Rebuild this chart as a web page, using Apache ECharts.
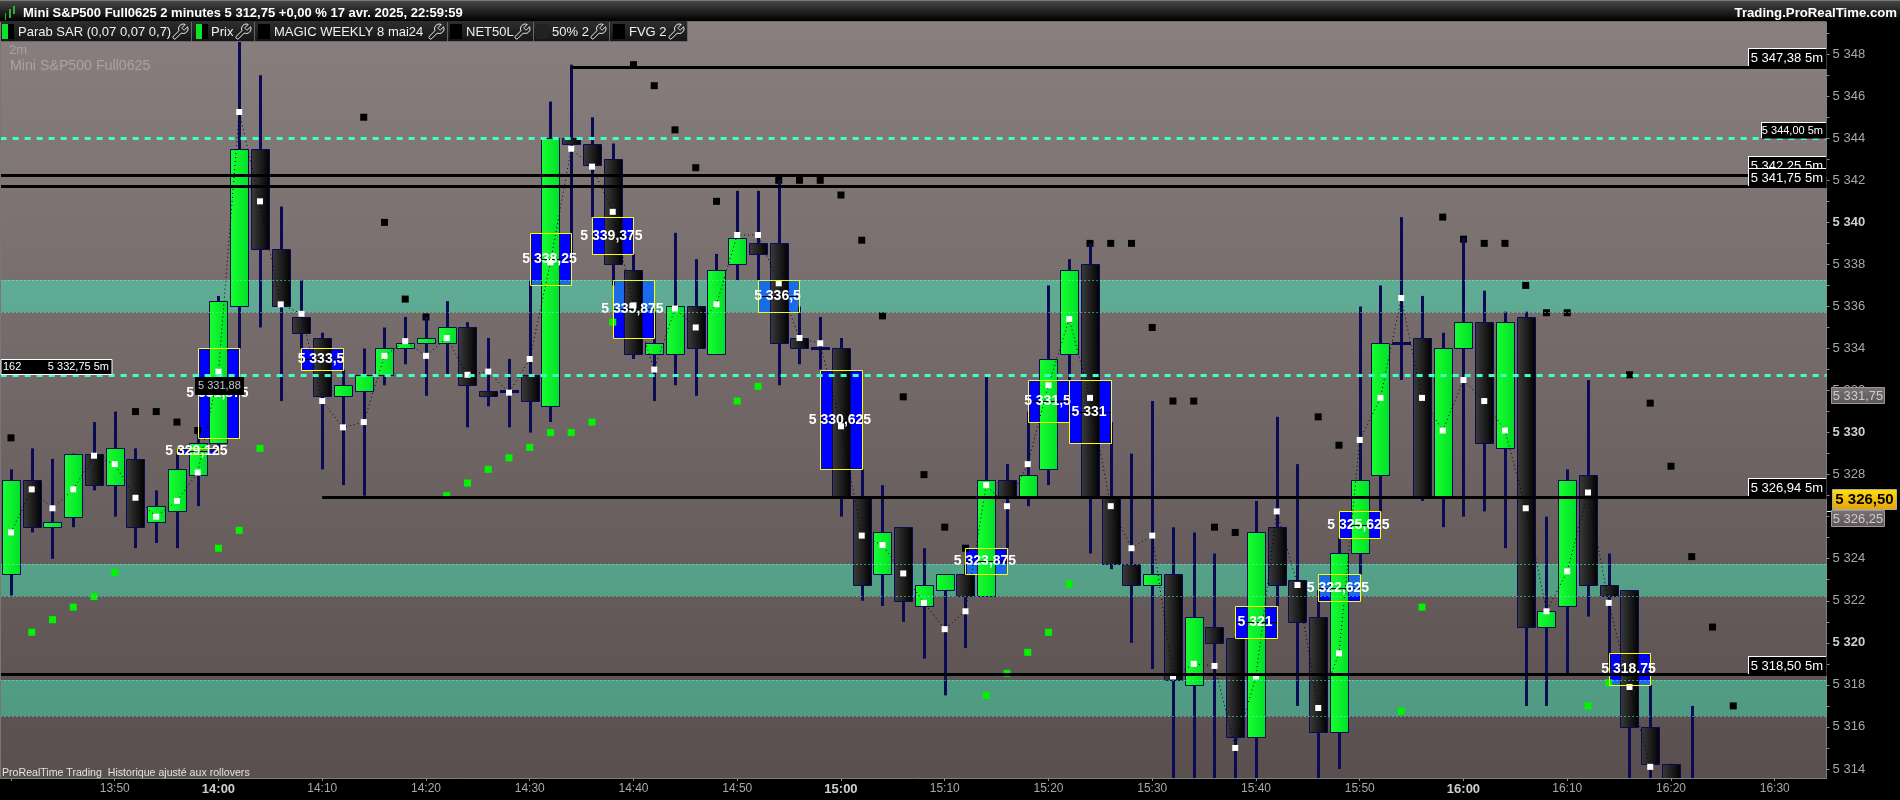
<!DOCTYPE html>
<html><head><meta charset="utf-8">
<style>html,body{margin:0;padding:0;background:#000;overflow:hidden}#c{width:1900px;height:800px}</style>
<script src="https://cdn.jsdelivr.net/npm/echarts@6/dist/echarts.min.js"></script>
</head><body><div id="c"></div>
<script>
const times=['13:40','13:42','13:44','13:46','13:48','13:50','13:52','13:54','13:56','13:58','14:00','14:02','14:04','14:06','14:08','14:10','14:12','14:14','14:16','14:18','14:20','14:22','14:24','14:26','14:28','14:30','14:32','14:34','14:36','14:38','14:40','14:42','14:44','14:46','14:48','14:50','14:52','14:54','14:56','14:58','15:00','15:02','15:04','15:06','15:08','15:10','15:12','15:14','15:16','15:18','15:20','15:22','15:24','15:26','15:28','15:30','15:32','15:34','15:36','15:38','15:40','15:42','15:44','15:46','15:48','15:50','15:52','15:54','15:56','15:58','16:00','16:02','16:04','16:06','16:08','16:10','16:12','16:14','16:16','16:18','16:20','16:22','16:24','16:26','16:28','16:30','16:32','16:34'];
const opens=[5323.25,5327.75,5325.5,5326,5329,5327.5,5328.75,5325.75,5326.25,5328,5329.5,5336,5343.5,5338.75,5335.5,5334.5,5331.75,5332,5332.75,5334,5334.25,5334.25,5335,5332,5332,5332.75,5331.25,5344,5343.75,5343,5337.75,5333.75,5333.75,5336,5333.75,5338,5339,5339,5334.5,5334,5334,5327,5323.25,5325.5,5321.75,5322.5,5323.25,5322.25,5327.75,5327,5328.25,5333.75,5338,5327,5323.75,5322.75,5323.25,5318,5320.75,5320.25,5315.5,5325.5,5323,5321.25,5315.75,5324.25,5328,5334.25,5334.5,5327,5334,5335.25,5329.25,5335.5,5320.75,5321.75,5328,5322.75,5322.5,5316,5314.25,5313.25];
const closes=[5327.75,5325.5,5325.75,5329,5327.5,5329.25,5325.5,5326.5,5328.25,5329.5,5336.25,5343.5,5338.75,5336,5334.75,5331.75,5332.25,5332.75,5334,5334.25,5334.5,5335,5332.25,5331.75,5332,5331.5,5344,5343.75,5342.75,5338,5333.75,5334.25,5336,5334,5337.75,5339.25,5338.5,5334.25,5334,5334,5327,5322.75,5325.25,5322,5322.75,5323.25,5322.25,5327.75,5327,5328,5333.5,5337.75,5327,5323.75,5322.75,5323.25,5318.25,5321.25,5320,5315.5,5325.25,5322.75,5321,5315.75,5324.25,5327.75,5334.25,5334.25,5327,5334,5335.25,5329.5,5335.25,5320.75,5321.5,5327.75,5322.75,5322.25,5316,5314.25,5313.25,5313];
const highs=[5328.25,5329.25,5328.75,5329,5330.5,5331,5329.25,5327.25,5329,5330,5336.5,5349,5347,5340.75,5337.25,5334.75,5333,5334,5335,5335.5,5335.5,5336.25,5335.25,5334.5,5333.5,5337.25,5345.75,5347.5,5345,5343.75,5338.5,5335.75,5339.5,5338.25,5338.5,5341.5,5341.5,5342,5336,5335.5,5334.5,5328.25,5327.5,5325.5,5324.5,5323.25,5323.75,5332.75,5328.5,5331,5337,5338.25,5339,5330.5,5329,5331.5,5325.5,5325.25,5324.25,5320.25,5326.75,5330.75,5328.5,5322.5,5325,5336,5337,5340.25,5336.5,5334.75,5339.25,5336.75,5335.75,5335.75,5326,5328.25,5332.5,5324.25,5322.5,5318,5314.25,5317];
const lows=[5322.25,5325.25,5324,5325.5,5327.25,5326,5324.5,5324.75,5324.5,5326.5,5329.25,5334,5335,5331.5,5334,5328.25,5327.5,5327,5332.25,5333.25,5331.75,5332.75,5330.25,5331.25,5330.25,5330,5330.5,5338.25,5340.25,5337,5333.5,5331.5,5332.25,5331.75,5333.75,5337.25,5337.25,5332.25,5333.25,5333,5326,5322,5321.75,5321,5319.25,5317.5,5319.75,5322.25,5324.5,5326.5,5327.5,5332.5,5324.25,5323.5,5320,5318.75,5313.25,5313.25,5313.25,5313.25,5313.25,5321.75,5317,5313.25,5314,5323.25,5326.25,5332.5,5326.75,5325.5,5326,5326.25,5324.5,5317,5317,5318.5,5321.25,5318.5,5313.25,5313.25,5313,5312.5];
const closePoints=[5325.25,5327.3,5326.4,5327.3,5328.9,5328.5,5326.9,5326,5326.75,5328.1,5332.9,5345.25,5341,5336.1,5335.65,5331.5,5330.25,5330.5,5333.65,5334.35,5333.65,5334.5,5332.75,5332.9,5331.9,5333.5,5338.1,5343.5,5342.65,5340.5,5336.05,5333,5335.9,5335,5336.1,5339.4,5339.4,5337.1,5334.5,5334.25,5330.3,5325.1,5324.65,5323.3,5321.9,5320.65,5321.5,5327.5,5326.5,5328.5,5332.25,5335.4,5331.65,5326.5,5324.5,5325.1,5318.4,5319,5318.9,5315,5318.4,5326.25,5322.75,5316.9,5319.5,5329.65,5331.65,5336.4,5331.65,5330.1,5332.5,5331.5,5330.1,5326.4,5321.5,5323.4,5327.15,5321.9,5317.9,5314.1];
const sarUp=[null,5320.5,5321.1,5321.7,5322.2,5323.35,null,null,null,null,5324.5,5325.35,5329.25,null,null,null,null,null,null,null,null,5327,5327.6,5328.25,5328.8,5329.3,5330,5330,5330.5,5335.25,null,null,null,null,null,5331.5,5332.2,null,null,null,null,null,null,null,null,null,null,5317.5,5318.55,5319.55,5320.5,5322.8,null,null,null,null,null,null,null,null,null,null,null,null,null,null,null,5316.75,5321.7,null,null,null,null,null,null,null,5317,5318.1];
const sarDown=[5329.75,null,null,null,null,null,5331,5331,5330.5,5330.1,null,null,null,null,null,null,null,5345,5340,5336.35,5335.5,null,null,null,null,null,null,null,null,null,5347.5,5346.5,5344.4,5342.6,5341,null,null,5342,5342,5342,5341.3,5339.15,5335.55,5331.7,5328,5325.5,5324.5,null,null,null,null,null,5339,5339,5339,5335,5331.5,5331.5,5325.5,5325.25,null,null,null,5330.75,5329.4,null,null,null,null,5340.25,5339.2,5339,5339,5337,5335.7,5335.7,null,null,5332.75,5331.4,5328.4,5324.1,5320.75,5317];
const boxLabels=['5 331,875','5 329,125','5 333,5','5 338,25','5 339,375','5 335,875','5 336,5','5 330,625','5 323,875','5 331,5','5 331','5 325,625','5 322,625','5 321','5 318,75'];
const boxStart=[9,8,14,25,28,29,36,39,46,49,51,64,63,59,77];
const boxHigh=[5334,5329.25,5334,5339.5,5340.25,5337.25,5337.25,5333,5324.5,5332.5,5332.5,5326.25,5323.25,5321.75,5319.5];
const boxLow=[5329.75,5329,5333,5337,5338.5,5334.5,5335.75,5328.25,5323.25,5330.5,5329.5,5325,5322,5320.25,5318];
const bandHigh=[5337.25,5323.75,5318.25];
const bandLow=[5335.75,5322.25,5316.5];
const solidLevels=[5347.38,5342.25,5341.75,5326.94,5318.5];
const solidLevelStart=[27,-1,-1,15,-1];
const dashLevels=[5344,5332.75];
const yTicks=[5314,5316,5318,5320,5322,5324,5326,5328,5330,5332,5334,5336,5338,5340,5342,5344,5346,5348];
const yMinorTicks=[5314,5315,5316,5317,5318,5319,5320,5321,5322,5323,5324,5325,5326,5327,5328,5329,5330,5331,5332,5333,5334,5335,5336,5337,5338,5339,5340,5341,5342,5343,5344,5345,5346,5347,5348,5349];
const titleText='Mini S&P500 Full0625 2 minutes 5 312,75 +0,00 % 17 avr. 2025, 22:59:59';
const brandText='Trading.ProRealTime.com';

const FONT='"Liberation Sans", Arial, sans-serif';
const NAVY='#0b0b55', MINT='#40ffc4';
const greenFill={type:'linear',x:0,y:0,x2:1,y2:0,colorStops:[{offset:0,color:'#18ff30'},{offset:1,color:'#00e028'}]};
const blackFill={type:'linear',x:0,y:0,x2:1,y2:0,colorStops:[{offset:0,color:'#3c3c3c'},{offset:1,color:'#000000'}]};
const fmtY=v=>{const s=String(v);return s[0]+' '+s.slice(1)};

const candleData=opens.map((o,i)=>[i,o,closes[i],highs[i],lows[i]]);
function renderCandle(p,api){
  const i=p.dataIndex,x=Math.round(api.coord([i,5330])[0]);
  const yo=Math.round(api.coord([i,opens[i]])[1]),yc=Math.round(api.coord([i,closes[i]])[1]);
  const yh=api.coord([i,highs[i]])[1],yl=api.coord([i,lows[i]])[1];
  const kids=[{type:'rect',shape:{x:x-1,y:yh,width:3,height:yl-yh},style:{fill:NAVY}}];
  if(opens[i]===closes[i]){
    kids.push({type:'rect',shape:{x:x-9,y:yo-1,width:19,height:3},style:{fill:NAVY}});
  }else{
    const top=Math.min(yo,yc),h=Math.abs(yo-yc);
    kids.push({type:'rect',shape:{x:x-9+.5,y:top+.5,width:18,height:h},
      style:{fill:closes[i]>opens[i]?greenFill:blackFill,stroke:NAVY,lineWidth:1}});
  }
  return {type:'group',children:kids};
}
function boxRect(i,api){
  const a=api.coord([boxStart[i],boxHigh[i]]),b=api.coord([boxStart[i]+2,boxLow[i]]);
  return {x:Math.round(a[0]),y:Math.round(a[1]),r:Math.round(b[0]),b:Math.round(b[1])};
}
function renderBoxFill(p,api){
  const r=boxRect(p.dataIndex,api);
  return {type:'rect',shape:{x:r.x,y:r.y,width:r.r-r.x,height:r.b-r.y},style:{fill:'#0000ff'}};
}
function renderBoxTop(p,api){
  const r=boxRect(p.dataIndex,api),my=Math.round((r.y+r.b)/2);
  return {type:'group',children:[
    {type:'line',shape:{x1:r.x,y1:my+.5,x2:r.r,y2:my+.5},style:{stroke:'#000',lineWidth:1}},
    {type:'rect',shape:{x:r.x+.5,y:r.y+.5,width:r.r-r.x,height:r.b-r.y},style:{fill:'none',stroke:'#ffff00',lineWidth:1}},
    {type:'text',style:{x:(r.x+r.r)/2-1,y:my,text:boxLabels[p.dataIndex],align:'center',verticalAlign:'middle',font:'bold 14px '+FONT,fill:'#fff'}}
  ]};
}
function renderBand(p,api){
  const i=p.dataIndex,c=p.coordSys,t=Math.round(api.coord([0,bandHigh[i]])[1]),b=Math.round(api.coord([0,bandLow[i]])[1]);
  return {type:'rect',shape:{x:c.x,y:t,width:c.width,height:b-t},style:{fill:'rgba(62,255,198,0.42)'}};
}
function renderBandEdge(p,api){
  const i=p.dataIndex,c=p.coordSys,t=Math.round(api.coord([0,bandHigh[i]])[1])+.5,b=Math.round(api.coord([0,bandLow[i]])[1])+.5;
  const st={stroke:'#62ffd4',lineWidth:1,lineDash:[1,3]};
  return {type:'group',children:[
    {type:'line',shape:{x1:c.x,y1:t,x2:c.x+c.width,y2:t},style:st},
    {type:'line',shape:{x1:c.x,y1:b,x2:c.x+c.width,y2:b},style:st}]};
}
function renderSolid(p,api){
  const i=p.dataIndex,c=p.coordSys,y=Math.round(api.coord([0,solidLevels[i]])[1])+.5;
  const x0=solidLevelStart[i]<0?c.x:api.coord([solidLevelStart[i],5330])[0];
  return {type:'line',shape:{x1:x0,y1:y,x2:c.x+c.width,y2:y},style:{stroke:'#000',lineWidth:3}};
}
function renderDash(p,api){
  const i=p.dataIndex,c=p.coordSys,y=Math.round(api.coord([0,dashLevels[i]])[1])+.5;
  return {type:'line',shape:{x1:c.x,y1:y,x2:c.x+c.width,y2:y},style:{stroke:MINT,lineWidth:3,lineDash:[6,6]}};
}
const custom=(name,z,data,renderItem)=>({name,type:'custom',z,silent:true,clip:true,data,encode:{x:0,y:1},renderItem});
const idx=a=>a.map((v,i)=>[i,v]);

// chrome
const g=[];
const rect=(x,y,w,h,fill,stroke)=>g.push({type:'rect',z:100,silent:true,shape:{x,y,width:w,height:h},style:stroke?{fill,stroke,lineWidth:1}:{fill}});
const txt=(x,y,text,font,fill,align)=>g.push({type:'text',z:100,silent:true,style:{x,y,text,font:font+' '+FONT,fill,align:align||'left',verticalAlign:'middle'}});
const WRENCH='M14.7 6.3a1 1 0 0 0 0 1.4l1.6 1.6a1 1 0 0 0 1.4 0l3.77-3.77a6 6 0 0 1-7.94 7.94l-6.91 6.91a2.12 2.12 0 0 1-3-3l6.91-6.91a6 6 0 0 1 7.94-7.94l-3.76 3.76z';
const wrenchX=[];
// title bar
rect(0,0,1900,21,{type:'linear',x:0,y:0,x2:0,y2:1,colorStops:[{offset:0,color:'#4a4a4a'},{offset:1,color:'#000'}]});
rect(0,0,1900,1,'#777');
rect(0,21,1826,1,'#6e6e6e');
rect(5,13,1,7,'#2fb02f');rect(9,9,2,9,'#2fb02f');rect(13,6,2,8,'#2fb02f');
txt(23,13,titleText,'bold 13px','#fff');
txt(1897,13,brandText,'bold 13.2px','#fff','right');
// legend bar
rect(0,21,687,20,{type:'linear',x:0,y:0,x2:0,y2:1,colorStops:[{offset:0,color:'#2e2e2e'},{offset:1,color:'#161616'}]});
rect(0,41,687,1,'#6a6a6a');rect(687,21,1,21,'#6a6a6a');
const legend=[[2,'#0ee32a',18,'Parab SAR (0,07 0,07 0,7)',173,191],[196,'#0ee32a',211,'Prix',236,254],[258,'#000',274,'MAGIC WEEKLY 8 mai24',429,447],[450,'#000',466,'NET50L',515,533],[536,'#222',552,'50% 2',591,609],[613,'#000',629,'FVG 2',669,null]];
legend.forEach(l=>{
  rect(l[0],24,12,15,'#000');
  rect(l[0],24,l[1]==='#000'||l[1]==='#222'?12:6,15,l[1]);
  txt(l[2],32,l[3],'13px','#f0f0f0');
  wrenchX.push(l[4]);
  if(l[5])rect(l[5],22,1,19,'#666');
});
// plot captions
rect(0,22,1,756,'#777');
txt(9,50,'2m','13px','#a9a3a3');
txt(10,66,'Mini S&P500 Full0625','14.2px','#a9a3a3');
txt(2,773,'ProRealTime Trading  Historique ajusté aux rollovers','10.6px','#e2e2e2');
// level tags
const tag=(x,y,w,h,text,font)=>{rect(x+.5,y+.5,w,h,'#000');rect(x,y,w,1,'#fff');rect(x,y,1,h,'#fff');txt(x+w-3,y+h/2+1,text,font,'#fff','right');};
tag(1748,48,78,18,'5 347,38 5m','13px');
tag(1761,122,65,16,'5 344,00 5m','11px');
tag(1748,156,78,18,'5 342,25 5m','13px');
tag(1748,168,78,18,'5 341,75 5m','13px');
tag(1748,478,78,18,'5 326,94 5m','13px');
tag(1748,656,78,18,'5 318,50 5m','13px');
// left tag
rect(1,359.5,111,15,'#000','#fff');
txt(3,367,'162','11px','#fff');
txt(109,367,'5 332,75 5m','11px','#fff','right');
// hover tag
rect(195,377,49,18,'#000');
txt(198,386,'5 331,88','11px','#c8c8c8');
// axis price tags
const grey={type:'linear',x:0,y:0,x2:0,y2:1,colorStops:[{offset:0,color:'#7a7272'},{offset:1,color:'#5e5656'}]};
rect(1831.5,387.5,53,16,grey,'#9a9a9a');
txt(1858,396,'5 331,75','13px','#ccc','center');
rect(1827,511,6,1,'#fff');
rect(1831.5,510.5,53,16,grey,'#9a9a9a');
txt(1858,519,'5 326,25','13px','#ccc','center');
rect(1832.5,489.5,64,20,{type:'linear',x:0,y:0,x2:0,y2:1,colorStops:[{offset:0,color:'#ffdf10'},{offset:1,color:'#e5a300'}]},'#aaa');
txt(1864.5,500,'5 326,50','bold 15px','#000','center');

const chart=echarts.init(document.getElementById('c'),null,{renderer:'canvas'});
chart.setOption({
  animation:false,backgroundColor:'#000',graphic:{elements:g},
  grid:{left:0.6,width:1826,top:22,height:756,show:true,borderWidth:0,
    backgroundColor:{type:'linear',x:0,y:0,x2:0,y2:1,colorStops:[{offset:0,color:'#8a7f7f'},{offset:1,color:'#5a4f4f'}]}},
  xAxis:{type:'category',data:times,boundaryGap:true,
    axisLine:{show:true,lineStyle:{color:'#7c7c7c',width:1}},
    axisTick:{show:true,alignWithLabel:true,interval:4,length:3,lineStyle:{color:'#8c8c8c'}},
    axisLabel:{interval:4,margin:5,color:'#a8a8a8',fontFamily:FONT,fontSize:12,
      formatter:(v,i)=>i===0?'':(v.endsWith(':00')?'{b|'+v+'}':v),
      rich:{b:{fontWeight:'bold',fontSize:13,color:'#cfcfcf',fontFamily:FONT}}},
    splitLine:{show:false}},
  yAxis:{type:'value',position:'right',min:5313.57,max:5349.53,scale:true,
    axisLine:{show:true,lineStyle:{color:'#7c7c7c',width:1}},
    axisTick:{show:true,length:3,customValues:yMinorTicks,lineStyle:{color:'#8c8c8c'}},
    axisLabel:{margin:6,color:'#a8a8a8',fontFamily:FONT,fontSize:13,customValues:yTicks,
      formatter:v=>v%10===0?'{b|'+fmtY(v)+'}':fmtY(v),
      rich:{b:{fontWeight:'bold',fontSize:13,color:'#cfcfcf',fontFamily:FONT}}},
    splitLine:{show:false}},
  tooltip:{show:false},
  series:[
    custom('FVG fill',1,boxLabels.map((l,i)=>[boxStart[i],boxHigh[i]]),renderBoxFill),
    custom('Bands',2,idx(bandHigh),renderBand),
    {name:'SAR bas',type:'scatter',z:3,silent:true,symbol:'rect',symbolSize:7,itemStyle:{color:'#00f400',opacity:1},data:sarUp},
    {name:'SAR haut',type:'scatter',z:3,silent:true,symbol:'rect',symbolSize:7,itemStyle:{color:'#000',opacity:1},data:sarDown},
    custom('Prix',4,candleData,renderCandle),
    {name:'Close',type:'line',z:5,silent:true,data:closePoints,symbol:'rect',symbolSize:6,showAllSymbol:true,connectNulls:false,
      itemStyle:{color:'#fff',borderWidth:0},lineStyle:{color:'#000',width:1,type:[1,3]}},
    custom('FVG',6,boxLabels.map((l,i)=>[boxStart[i],boxHigh[i]]),renderBoxTop),
    custom('Band edges',7,idx(bandHigh),renderBandEdge),
    custom('Niveaux',8,idx(solidLevels),renderSolid),
    custom('Niveaux 50%',8,idx(dashLevels),renderDash),
    {name:'Clés',type:'custom',coordinateSystem:'none',z:101,silent:true,clip:false,data:wrenchX.map((x,i)=>[i]),
      renderItem:(p)=>({type:'path',shape:{pathData:WRENCH,x:wrenchX[p.dataIndex],y:24,width:15,height:15,layout:'cover'},style:{fill:'none',stroke:'#eee',lineWidth:1}})}
  ]
});
</script></body></html>
